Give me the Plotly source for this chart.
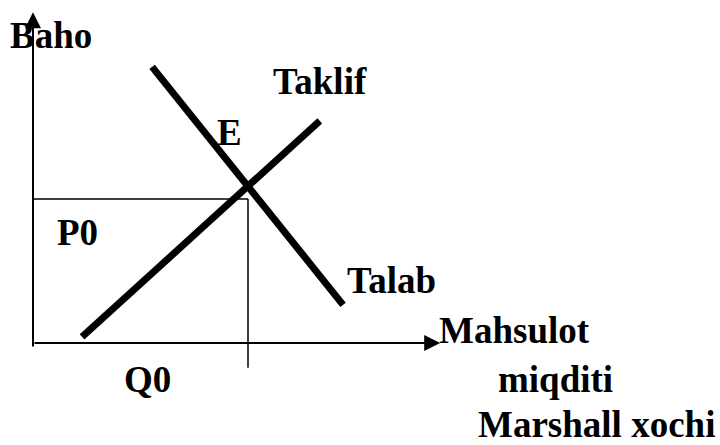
import plotly.graph_objects as go

# Data (quantity units on x, price units on y)
q0 = 5.0
p0 = 4.0
supply_q = [1.14, 6.67]
supply_p = [0.17, 6.17]
demand_q = [2.77, 7.21]
demand_p = [7.67, 1.06]

# axis extents
y_axis_top = 9.19
y_axis_bottom = -0.14
x_axis_right = 9.47
q0_line_bottom = -0.69

labels = ["Baho", "Taklif", "E", "P0", "Talab", "Q0", "Mahsulot", "miqditi", "Marshall xochi"]
label_x = [-0.55, 5.56, 4.26, 0.54, 7.28, 2.09, 9.42, 10.79, 10.33]
label_y = [8.544, 7.267, 5.85, 3.072, 1.739, -1.011, 0.35, -1.011, -2.25]

fig = go.Figure()

# P0 horizontal and Q0 vertical guide lines
fig.add_trace(go.Scatter(x=[0, q0], y=[p0, p0], mode="lines",
                         line=dict(color="black", width=1.5), hoverinfo="skip"))
fig.add_trace(go.Scatter(x=[q0, q0], y=[p0, q0_line_bottom], mode="lines",
                         line=dict(color="black", width=1.5), hoverinfo="skip"))

# Supply and demand
fig.add_trace(go.Scatter(x=supply_q, y=supply_p, mode="lines",
                         line=dict(color="black", width=7), name="Taklif"))
fig.add_trace(go.Scatter(x=demand_q, y=demand_p, mode="lines",
                         line=dict(color="black", width=7), name="Talab"))

annotations = []
# axes with arrows
annotations.append(dict(x=0, y=y_axis_top, ax=0, ay=y_axis_bottom, xref="x", yref="y",
                        axref="x", ayref="y", text="", showarrow=True,
                        arrowhead=2, arrowsize=1.6, arrowwidth=2, arrowcolor="black"))
annotations.append(dict(x=x_axis_right, y=0, ax=0, ay=0, xref="x", yref="y",
                        axref="x", ayref="y", text="", showarrow=True,
                        arrowhead=2, arrowsize=1.6, arrowwidth=2, arrowcolor="black"))

for t, x, y in zip(labels, label_x, label_y):
    annotations.append(dict(x=x, y=y, xref="x", yref="y", text="<b>%s</b>" % t,
                            showarrow=False, xanchor="left", yanchor="middle", borderpad=0,
                            font=dict(family="Liberation Serif", size=37, color="black")))

fig.update_layout(
    width=720, height=445,
    margin=dict(l=0, r=0, t=0, b=0),
    paper_bgcolor="white", plot_bgcolor="white",
    showlegend=False,
    xaxis=dict(range=[-33/43, 687/43], visible=False, fixedrange=True),
    yaxis=dict(range=[-102/36, 343/36], visible=False, fixedrange=True),
    annotations=annotations,
)

fig.write_html("out.html", config={"displayModeBar": False},
               post_script="document.body.style.margin='0';")
